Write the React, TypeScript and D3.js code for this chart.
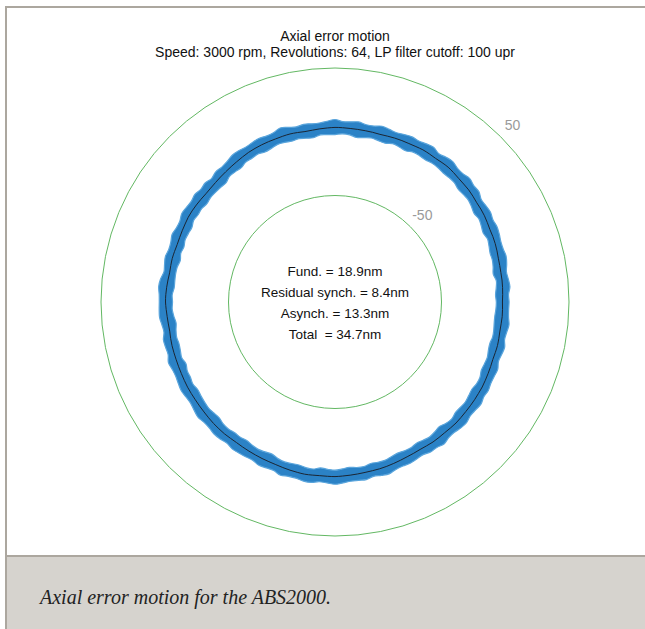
import React from "react";
import * as d3 from "d3";

// ---- data ----
const titleLines = ["Axial error motion", "Speed: 3000 rpm, Revolutions: 64, LP filter cutoff: 100 upr"];
const statLines = ["Fund. = 18.9nm", "Residual synch. = 8.4nm", "Asynch. = 13.3nm", "Total  = 34.7nm"];
const ringValues = [50, -50];
const ringLabels = ["50", "-50"];
const caption = "Axial error motion for the ABS2000.";

// angles in degrees, counter-clockwise from the right (every 2.5°)
const angleDeg = d3.range(0, 360, 2.5);

// synchronous (mean) error motion, nm
const meanProfile = [
  -2.2, -1.9, -1.6, -1.4, -1.4, -1.2, -0.9, -0.3, 0.2, 0.5, 0.6, 1.2,
  1.8, 2.1, 2.2, 2.8, 3.3, 3.4, 3.6, 4.1, 4.5, 4.3, 4.0, 4.2,
  4.3, 3.9, 3.6, 3.5, 3.3, 2.9, 2.6, 2.8, 2.9, 3.0, 3.1, 3.3,
  3.4, 3.1, 2.8, 2.4, 2.2, 2.6, 2.9, 2.8, 2.6, 2.6, 2.5, 2.3,
  2.0, 1.4, 0.8, 0.3, -0.2, -0.6, -1.0, -1.3, -1.4, -1.1, -0.8, -0.6,
  -0.6, -1.0, -1.3, -1.6, -1.8, -1.6, -1.4, -1.6, -1.8, -1.4, -1.0, -0.7,
  -0.6, -1.0, -1.4, -1.7, -1.9, -1.5, -1.2, -1.1, -1.0, -0.8, -0.6, -0.3,
  0.0, 0.1, 0.2, 0.4, 0.6, 0.9, 1.2, 1.3, 1.4, 1.2, 1.1, 1.3,
  1.5, 1.7, 1.9, 2.0, 2.2, 2.6, 3.0, 3.3, 3.6, 3.4, 3.2, 3.3,
  3.4, 3.1, 2.8, 2.5, 2.2, 2.0, 1.9, 1.6, 1.2, 0.8, 0.4, 0.2,
  0.0, 0.2, 0.5, 0.4, 0.3, 0.5, 0.7, 0.5, 0.3, 0.2, 0.1, -0.1,
  -0.2, -0.6, -1.0, -1.4, -1.8, -1.7, -1.6, -1.9, -2.2, -2.1, -1.9, -2.0,
];

// asynchronous spread over the 64 revolutions: max above / max below the mean, nm
const upperSpread = [
  5.2, 4.6, 5.8, 5.0, 4.4, 5.6, 6.3, 5.1, 4.7, 5.4, 6.0, 4.9,
  5.5, 4.8, 4.3, 5.9, 5.2, 6.4, 5.0, 4.6, 5.7, 5.3, 4.5, 6.1,
  5.4, 4.9, 5.8, 5.1, 4.4, 5.5, 6.6, 5.0, 4.7, 5.9, 5.2, 4.8,
  6.2, 5.3, 4.6, 5.0, 5.8, 4.5, 5.4, 6.8, 5.1, 4.7, 5.5, 5.0,
  4.6, 5.7, 6.2, 5.1, 4.8, 5.5, 4.4, 5.9, 5.3, 6.1, 4.9, 5.2,
  5.8, 4.7, 5.1, 6.4, 5.3, 4.8, 5.6, 5.0, 4.5, 5.9, 6.3, 5.2,
  4.9, 5.5, 6.0, 5.1, 4.6, 5.8, 5.2, 4.8, 6.5, 5.4, 4.9, 5.3,
  5.7, 5.0, 4.6, 5.4, 6.2, 5.1, 4.8, 5.6, 5.3, 4.7, 6.0, 5.5,
  5.1, 4.6, 5.9, 5.3, 4.9, 6.3, 5.0, 4.7, 5.5, 5.8, 4.8, 5.2,
  6.0, 5.4, 4.8, 5.1, 5.7, 4.5, 5.3, 6.2, 5.0, 4.9, 5.6, 5.1,
  4.7, 5.8, 5.2, 6.5, 5.0, 4.6, 5.4, 5.9, 4.8, 5.3, 6.1, 5.0,
  5.5, 4.9, 5.3, 6.0, 4.7, 5.2, 5.8, 4.6, 5.4, 6.2, 5.0, 4.8,
];
const lowerSpread = [
  4.8, 5.6, 5.0, 4.5, 6.1, 5.3, 4.9, 5.7, 5.2, 4.6, 5.9, 5.4,
  5.0, 6.3, 5.1, 4.7, 5.5, 5.9, 4.8, 5.3, 6.0, 5.1, 4.6, 5.6,
  5.3, 4.9, 6.2, 5.4, 4.7, 5.8, 5.1, 4.6, 5.5, 6.4, 5.0, 4.8,
  5.6, 5.2, 4.7, 6.0, 5.3, 4.9, 5.8, 5.1, 4.6, 5.7, 6.2, 5.0,
  5.4, 4.8, 5.9, 5.2, 4.6, 6.3, 5.5, 5.0, 4.7, 5.8, 5.1, 5.6,
  4.9, 6.0, 5.3, 4.7, 5.6, 5.1, 6.5, 5.2, 4.8, 5.4, 5.9, 5.0,
  5.5, 4.7, 5.2, 6.1, 5.0, 4.8, 5.7, 5.3, 4.6, 6.2, 5.1, 5.4,
  4.8, 5.9, 5.4, 5.0, 4.7, 5.6, 6.3, 5.1, 4.9, 5.5, 5.2, 6.0,
  5.3, 4.9, 5.7, 6.4, 5.0, 4.6, 5.4, 5.9, 5.2, 4.8, 6.1, 5.5,
  5.0, 5.6, 6.2, 5.1, 4.7, 5.8, 5.3, 4.9, 5.6, 6.0, 5.1, 4.8,
  5.7, 5.2, 4.8, 5.5, 6.3, 5.0, 4.7, 5.8, 5.4, 4.9, 5.6, 6.1,
  5.1, 4.8, 5.9, 5.3, 4.6, 5.7, 6.2, 5.0, 4.9, 5.5, 5.8, 5.2,
];

export default function App() {
  const width = 645;
  const height = 629;
  const cx = 335;
  const cy = 302;

  const r = d3.scaleLinear().domain([-50, 50]).range([106.5, 234]);
  const toRad = (deg: number) => ((90 - deg) * Math.PI) / 180;
  const curve = d3.curveCatmullRomClosed.alpha(0.5);

  const band = d3
    .areaRadial<number>()
    .angle((_, i) => toRad(angleDeg[i]))
    .innerRadius((d, i) => r(d - lowerSpread[i]))
    .outerRadius((d, i) => r(d + upperSpread[i]))
    .curve(curve);

  const edgeUpper = d3
    .lineRadial<number>()
    .angle((_, i) => toRad(angleDeg[i]))
    .radius((d, i) => r(d + upperSpread[i]))
    .curve(curve);
  const edgeLower = d3
    .lineRadial<number>()
    .angle((_, i) => toRad(angleDeg[i]))
    .radius((d, i) => r(d - lowerSpread[i]))
    .curve(curve);

  const meanLine = d3
    .lineRadial<number>()
    .angle((_, i) => toRad(angleDeg[i]))
    .radius((d) => r(d))
    .curve(curve);

  const labelAngle = (45 * Math.PI) / 180;

  return (
    <div style={{ position: "fixed", left: 0, top: 0 }}>
      <svg width={width} height={height} style={{ display: "block" }}>
        <rect x={0} y={0} width={width} height={height} fill="#ffffff" />
        {/* frame */}
        <rect x={7} y={557} width={638} height={72} fill="#d6d3ce" />
        <rect x={5} y={6} width={640} height={2} fill="#aca79f" />
        <rect x={5} y={6} width={2} height={623} fill="#aca79f" />
        <rect x={7} y={555} width={638} height={2} fill="#aca79f" />
        <text
          x={40}
          y={604}
          fontFamily="'Liberation Serif', 'DejaVu Serif', serif"
          fontStyle="italic"
          fontSize={20}
          fill="#222"
        >
          {caption}
        </text>

        {/* title */}
        <g fontFamily="'Liberation Sans', Arial, sans-serif" fontSize={14} fill="#111" textAnchor="middle">
          {titleLines.map((t, i) => (
            <text key={i} x={cx} y={41 + i * 16}>
              {t}
            </text>
          ))}
        </g>

        <g transform={`translate(${cx},${cy})`}>
          {ringValues.map((v, i) => (
            <g key={i}>
              <circle r={r(v)} fill="none" stroke="#63b863" strokeWidth={1} />
              <text
                x={(r(v) + 17) * Math.cos(labelAngle)}
                y={-(r(v) + 17) * Math.sin(labelAngle) + 5}
                textAnchor="middle"
                fontFamily="'Liberation Sans', Arial, sans-serif"
                fontSize={14}
                fill="#9a9a9a"
              >
                {ringLabels[i]}
              </text>
            </g>
          ))}

          <path d={band(meanProfile) || ""} fill="#2b82c6" fillRule="evenodd" />
          <path d={edgeUpper(meanProfile) || ""} fill="none" stroke="#5aa5dc" strokeWidth={1.2} />
          <path d={edgeLower(meanProfile) || ""} fill="none" stroke="#5aa5dc" strokeWidth={1.2} />
          <path d={meanLine(meanProfile) || ""} fill="none" stroke="#1a2533" strokeWidth={1} />

          <g fontFamily="'Liberation Sans', Arial, sans-serif" fontSize={13.5} fill="#111" textAnchor="middle">
            {statLines.map((t, i) => (
              <text key={i} x={0} y={-26 + i * 21} style={{ whiteSpace: "pre" }}>
                {t}
              </text>
            ))}
          </g>
        </g>
      </svg>
    </div>
  );
}
